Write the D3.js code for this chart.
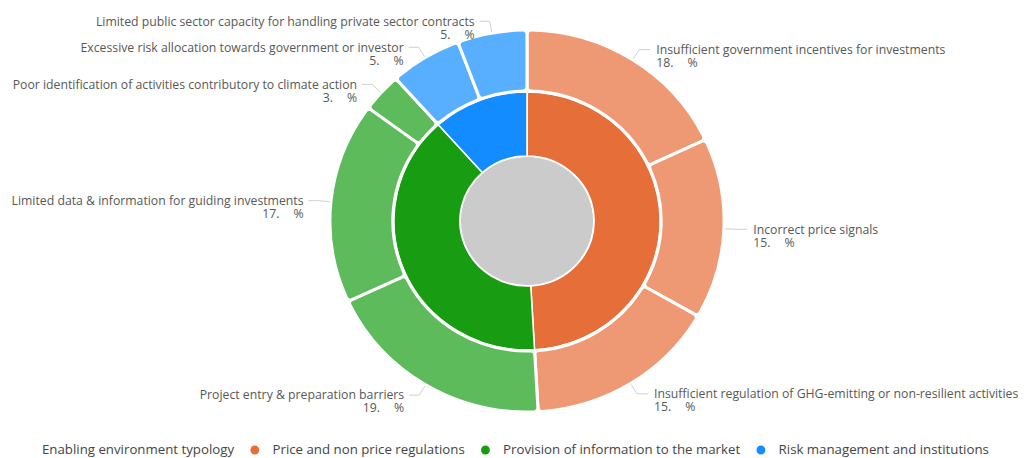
<!DOCTYPE html>
<html>
<head>
<meta charset="utf-8">
<script src="https://cdn.jsdelivr.net/npm/d3@7/dist/d3.min.js"></script>
<style>
  html, body { margin: 0; padding: 0; background: #fff; }
  svg { display: block; }
</style>
</head>
<body>
<svg id="chart" width="1028" height="458"></svg>
<script>
// ---- data ----
const groupNames = [
  "Price and non price regulations",
  "Provision of information to the market",
  "Risk management and institutions"
];
const itemNames = [
  "Insufficient government incentives for investments",
  "Incorrect price signals",
  "Insufficient regulation of GHG-emitting or non-resilient activities",
  "Project entry & preparation barriers",
  "Limited data & information for guiding investments",
  "Poor identification of activities contributory to climate action",
  "Excessive risk allocation towards government or investor",
  "Limited public sector capacity for handling private sector contracts"
];
const itemGroup = [0, 0, 0, 1, 1, 1, 2, 2];
const itemValues = [18.0, 15.3, 15.8, 19.0, 17.0, 3.3, 5.9, 5.7];
const legendTitle = "Enabling environment typology";

// ---- styles ----
const innerColors = ["#E56E39", "#189D12", "#128CFF"];
const outerColors = ["#EE9974", "#5EBB5B", "#58AEFF"];

const W = 1028, H = 458;
const cx = 527, cy = 221, sx = 1.032;
const rCore = 64, rIn0 = 65, rIn1 = 129, rOut0 = 130, rOut1 = 191;

const svg = d3.select("#chart");

const groupValues = groupNames.map((g, i) =>
  d3.sum(itemValues.filter((v, j) => itemGroup[j] === i)));

const pie = d3.pie().sort(null).value(d => d.value);
const innerData = pie(groupNames.map((n, i) => ({ name: n, value: groupValues[i], gi: i })));
const outerData = pie(itemNames.map((n, i) => ({ name: n, value: itemValues[i], gi: itemGroup[i] })));

const chart = svg.append("g").attr("transform", `translate(${cx},${cy}) scale(${sx},1)`);

chart.append("circle").attr("r", rCore).attr("fill", "#CBCBCB");

const arcIn = d3.arc().innerRadius(rIn0).outerRadius(rIn1);
chart.append("g").selectAll("path").data(innerData).join("path")
  .attr("d", arcIn)
  .attr("fill", d => innerColors[d.data.gi])
  .attr("stroke", "#fff").attr("stroke-width", 1.5);

const arcOut = d3.arc().innerRadius(rOut0).outerRadius(rOut1).cornerRadius(4);
chart.append("g").selectAll("path").data(outerData).join("path")
  .attr("d", arcOut)
  .attr("fill", d => outerColors[d.data.gi])
  .attr("stroke", "#fff").attr("stroke-width", 3).attr("stroke-linejoin", "round");

// ---- labels ----
const labelG = svg.append("g");
const fontFam = "'Open Sans', 'Noto Sans', sans-serif";
outerData.forEach((d, i) => {
  const a = (d.startAngle + d.endAngle) / 2;
  const s = Math.sin(a), c = Math.cos(a);
  const right = s >= 0;
  const p1 = [cx + sx * (rOut1 + 1) * s, cy - (rOut1 + 1) * c];
  const p2 = [cx + sx * (rOut1 + 12) * s, cy - (rOut1 + 12) * c];
  const p3 = [p2[0] + (right ? 11 : -10), p2[1]];
  labelG.append("polyline")
    .attr("points", [p1, p2, p3].map(p => p.join(",")).join(" "))
    .attr("fill", "none").attr("stroke", "#D0D0D0").attr("stroke-width", 1);
  const tx = p3[0] + (right ? 6 : -5);
  const anchor = right ? "start" : "end";
  const t = labelG.append("text")
    .attr("text-anchor", anchor)
    .attr("font-family", fontFam).attr("font-size", 12.25)
    .attr("fill", "#585858");
  t.append("tspan").attr("x", tx).attr("y", p2[1]).attr("dy", "0.35em").text(d.data.name);
  const v = d.data.value;
  t.append("tspan").attr("x", tx).attr("y", p2[1] + 13).attr("dy", "0.35em")
    .text(Math.floor(v) + ".");
  t.append("tspan").attr("dx", 14).text("%");
});

// ---- legend ----
const legG = svg.append("g");
const legInner = legG.append("g");
const legY = 450;
const legFont = "'Open Sans', 'Noto Sans', sans-serif";
const legSize = 13.5;
let x = 0;
const title = legInner.append("text").attr("x", x).attr("y", legY + 4.5)
  .attr("font-family", legFont).attr("font-size", legSize).attr("fill", "#444")
  .text(legendTitle);
x += title.node().getComputedTextLength() + 17;
groupNames.forEach((n, i) => {
  legInner.append("circle").attr("cx", x + 4).attr("cy", legY).attr("r", 4.5)
    .attr("fill", innerColors[i]);
  x += 4 + 18;
  const t = legInner.append("text").attr("x", x).attr("y", legY + 4.5)
    .attr("font-family", legFont).attr("font-size", legSize).attr("fill", "#444")
    .text(n);
  x += t.node().getComputedTextLength() + (i < groupNames.length - 1 ? 17 : 0);
});
const legW = 947, legX0 = 42;
const k = legW / x;
legG.attr("transform", `translate(${legX0},${legY}) scale(${k},1) translate(0,${-legY})`);
</script>
</body>
</html>
